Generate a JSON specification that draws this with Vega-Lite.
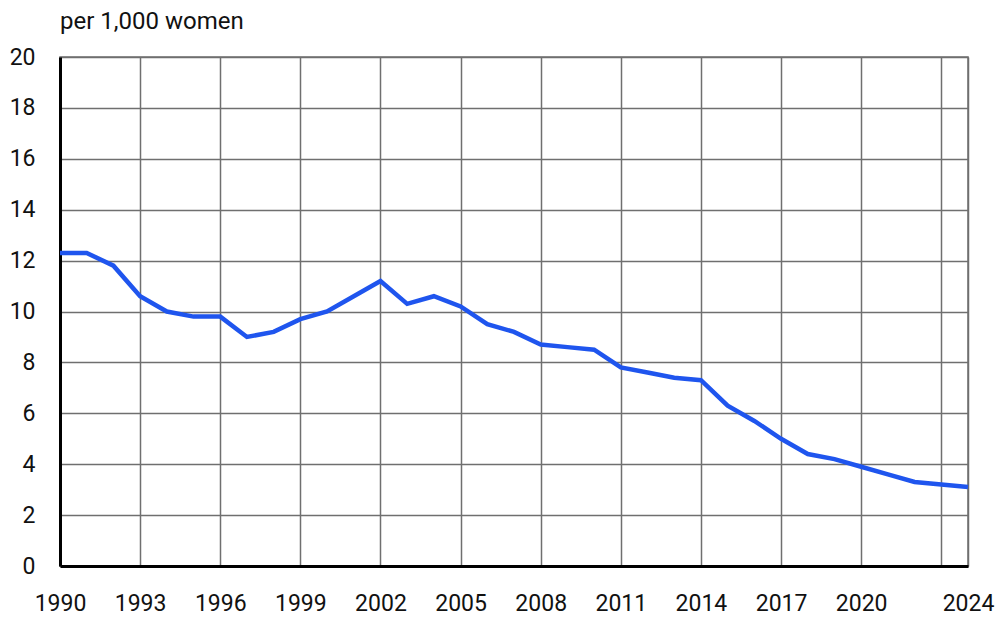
{
  "$schema": "https://vega.github.io/schema/vega-lite/v6.json",
  "width": 908,
  "height": 509,
  "autosize": {"type": "none"},
  "padding": {"left": 60, "top": 57, "right": 33, "bottom": 51},
  "background": "white",
  "title": {"text": "per 1,000 women", "anchor": "start", "frame": "group", "font": "Roboto", "fontSize": 24, "fontWeight": "normal", "color": "#111", "baseline": "bottom", "offset": 12, "dy": 24},
  "data": {"values": [
    {"year": 1990, "rate": 12.3}, {"year": 1991, "rate": 12.3}, {"year": 1992, "rate": 11.8},
    {"year": 1993, "rate": 10.6}, {"year": 1994, "rate": 10.0}, {"year": 1995, "rate": 9.8},
    {"year": 1996, "rate": 9.8}, {"year": 1997, "rate": 9.0}, {"year": 1998, "rate": 9.2},
    {"year": 1999, "rate": 9.7}, {"year": 2000, "rate": 10.0}, {"year": 2001, "rate": 10.6},
    {"year": 2002, "rate": 11.2}, {"year": 2003, "rate": 10.3}, {"year": 2004, "rate": 10.6},
    {"year": 2005, "rate": 10.2}, {"year": 2006, "rate": 9.5}, {"year": 2007, "rate": 9.2},
    {"year": 2008, "rate": 8.7}, {"year": 2009, "rate": 8.6}, {"year": 2010, "rate": 8.5},
    {"year": 2011, "rate": 7.8}, {"year": 2012, "rate": 7.6}, {"year": 2013, "rate": 7.4},
    {"year": 2014, "rate": 7.3}, {"year": 2015, "rate": 6.3}, {"year": 2016, "rate": 5.7},
    {"year": 2017, "rate": 5.0}, {"year": 2018, "rate": 4.4}, {"year": 2019, "rate": 4.2},
    {"year": 2020, "rate": 3.9}, {"year": 2021, "rate": 3.6}, {"year": 2022, "rate": 3.3},
    {"year": 2023, "rate": 3.2}, {"year": 2024, "rate": 3.1}
  ]},
  "mark": {"type": "line", "color": "#1f55ee", "strokeWidth": 4.5, "strokeJoin": "miter", "clip": false},
  "encoding": {
    "x": {"field": "year", "type": "quantitative",
      "scale": {"domain": [1990, 2024], "nice": false, "zero": false},
      "axis": {"title": null, "values": [1990, 1993, 1996, 1999, 2002, 2005, 2008, 2011, 2014, 2017, 2020, 2023, 2024],
        "labelExpr": "datum.value == 2023 ? '' : datum.value + ''", "format": "d",
        "grid": true, "gridColor": "#6f6f6f", "gridWidth": 1.5, "gridOpacity": 1,
        "domain": true, "domainColor": "#000", "domainWidth": 3,
        "ticks": false, "labelPadding": 37, "labelFont": "Roboto", "labelFontSize": 23, "labelColor": "#111",
        "labelFlush": false, "labelOverlap": false, "labelBaseline": "middle"}},
    "y": {"field": "rate", "type": "quantitative",
      "scale": {"domain": [0, 20], "nice": false},
      "axis": {"title": null, "values": [0, 2, 4, 6, 8, 10, 12, 14, 16, 18, 20],
        "grid": true, "gridColor": "#6f6f6f", "gridWidth": 1.5, "gridOpacity": 1,
        "domain": true, "domainColor": "#000", "domainWidth": 3,
        "ticks": false, "labelPadding": 25, "labelFont": "Roboto", "labelFontSize": 23, "labelColor": "#111",
        "labelFlush": false, "labelOverlap": false}}
  },
  "config": {"view": {"stroke": "#6f6f6f", "strokeWidth": 1.5}}
}
